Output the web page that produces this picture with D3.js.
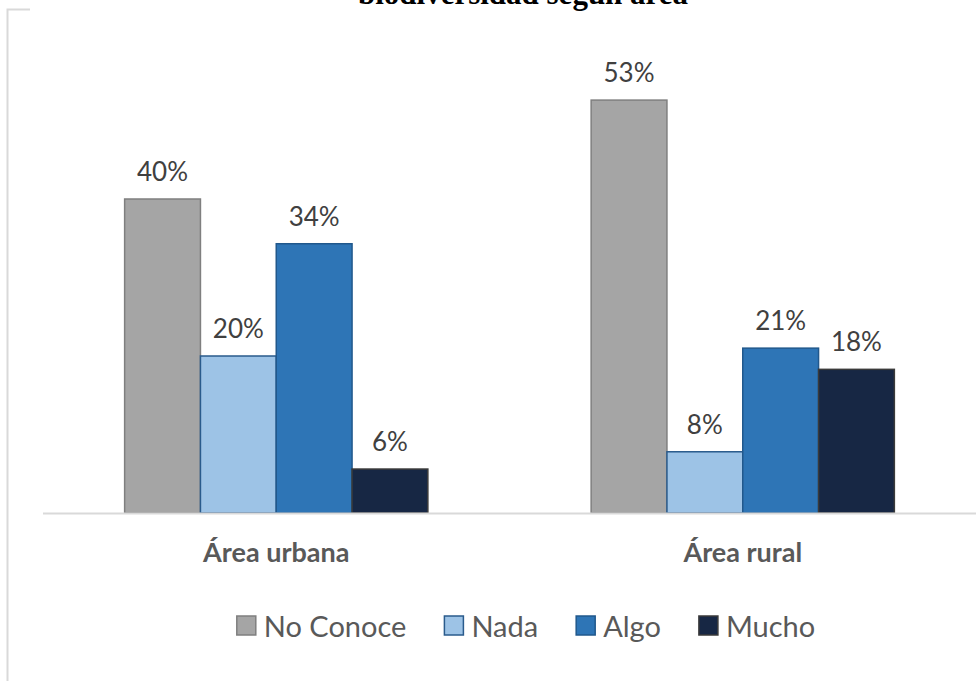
<!DOCTYPE html>
<html>
<head>
<meta charset="utf-8">
<script src="https://cdn.jsdelivr.net/npm/d3@7"></script>
<style>
	body { margin: 0; background: #fff; }
	svg { display: block; }
</style>
</head>
<body>
<div id="chart"></div>
<script>
// datos
var categories = ["Área urbana", "Área rural"];
var seriesNames = ["No Conoce", "Nada", "Algo", "Mucho"];
var noConoce = [0.40, 0.526];
var nada = [0.20, 0.078];
var algo = [0.343, 0.21];
var mucho = [0.056, 0.183];
var titleText = "biodiversidad según área";

var fills = ["#a5a5a5", "#9dc3e6", "#2e75b6", "#172744"];
var strokes = ["#7f7f7f", "#2a5b8c", "#21588c", "#3a3a3a"];

var width = 978, height = 681;
var margin = { top: 42, left: 43, right: 2, bottom: 168 };
var seriesValues = [noConoce, nada, algo, mucho];

var svg = d3.select("#chart")
	.append("svg")
	.attr("width", width)
	.attr("height", height);

// marco recortado del area del grafico
svg.append("path")
	.attr("d", "M7.5,681 L7.5,9.5 L30,9.5")
	.style("fill", "none")
	.style("stroke", "#d9d9d9")
	.style("stroke-width", 2);

svg.append("text")
	.attr("x", 523)
	.attr("y", 4)
	.attr("text-anchor", "middle")
	.style("font-family", "'Liberation Serif', 'Times New Roman', serif")
	.style("font-weight", "bold")
	.style("font-size", "31px")
	.style("fill", "#000")
	.text(titleText);

var x0 = d3.scaleBand()
	.domain(categories)
	.range([margin.left, width - margin.right])
	.paddingInner(0.35)
	.paddingOuter(0.175);

var x1 = d3.scaleBand()
	.domain(seriesNames)
	.range([0, x0.bandwidth()])
	.padding(0);

var y = d3.scaleLinear()
	.domain([0, 0.6])
	.range([height - margin.bottom, margin.top]);

var fmt = d3.format(".0%");

var groups = svg.selectAll("g.grupo")
	.data(categories)
	.enter()
	.append("g")
	.attr("class", "grupo")
	.attr("transform", function(d) { return "translate(" + x0(d) + ",0)"; });

groups.selectAll("rect")
	.data(function(d, i) {
		return seriesNames.map(function(s, j) { return { s: s, j: j, v: seriesValues[j][i] }; });
	})
	.enter()
	.append("rect")
	.attr("x", function(d) { return x1(d.s); })
	.attr("y", function(d) { return y(d.v); })
	.attr("width", x1.bandwidth())
	.attr("height", function(d) { return y(0) - y(d.v); })
	.style("fill", function(d) { return fills[d.j]; })
	.style("stroke", function(d) { return strokes[d.j]; })
	.style("stroke-width", 1.5);

groups.selectAll("text.valor")
	.data(function(d, i) {
		return seriesNames.map(function(s, j) { return { s: s, j: j, v: seriesValues[j][i] }; });
	})
	.enter()
	.append("text")
	.attr("class", "valor")
	.attr("x", function(d) { return x1(d.s) + x1.bandwidth() / 2; })
	.attr("y", function(d) { return y(d.v) - 18; })
	.attr("text-anchor", "middle")
	.style("font-family", "Lato, 'Open Sans', sans-serif")
	.style("font-size", "26px")
	.style("fill", "#404040")
	.text(function(d) { return fmt(d.v); });

// eje x
var xAxis = svg.append("g")
	.attr("transform", "translate(0," + y(0) + ")")
	.call(d3.axisBottom(x0).tickSize(0).tickPadding(0));
xAxis.select(".domain")
	.attr("d", "M" + margin.left + ",0.5H" + (width - margin.right))
	.style("stroke", "#d9d9d9")
	.style("stroke-width", 2);
xAxis.selectAll(".tick text")
	.attr("dy", 0)
	.attr("y", 49)
	.style("font-family", "Lato, 'Open Sans', sans-serif")
	.style("font-weight", "bold")
	.style("font-size", "27px")
	.style("fill", "#595959");

// leyenda
var legend = svg.append("g").attr("class", "legend");
var items = legend.selectAll("g")
	.data(seriesNames)
	.enter()
	.append("g");
items.append("rect")
	.attr("x", 0)
	.attr("y", 616)
	.attr("width", 19)
	.attr("height", 19)
	.style("fill", function(d, i) { return fills[i]; })
	.style("stroke", function(d, i) { return strokes[i]; })
	.style("stroke-width", 1.5);
items.append("text")
	.attr("x", 27)
	.attr("y", 637)
	.style("font-family", "Lato, 'Open Sans', sans-serif")
	.style("font-size", "29px")
	.style("fill", "#595959")
	.text(function(d) { return d; });

var offsets = [], pos = 0;
items.each(function() {
	offsets.push(pos);
	pos += 27 + d3.select(this).select("text").node().getComputedTextLength() + 38;
});
var totalW = pos - 38;
var startX = 526 - totalW / 2;
items.attr("transform", function(d, i) { return "translate(" + (startX + offsets[i]) + ",0)"; });
</script>
</body>
</html>
